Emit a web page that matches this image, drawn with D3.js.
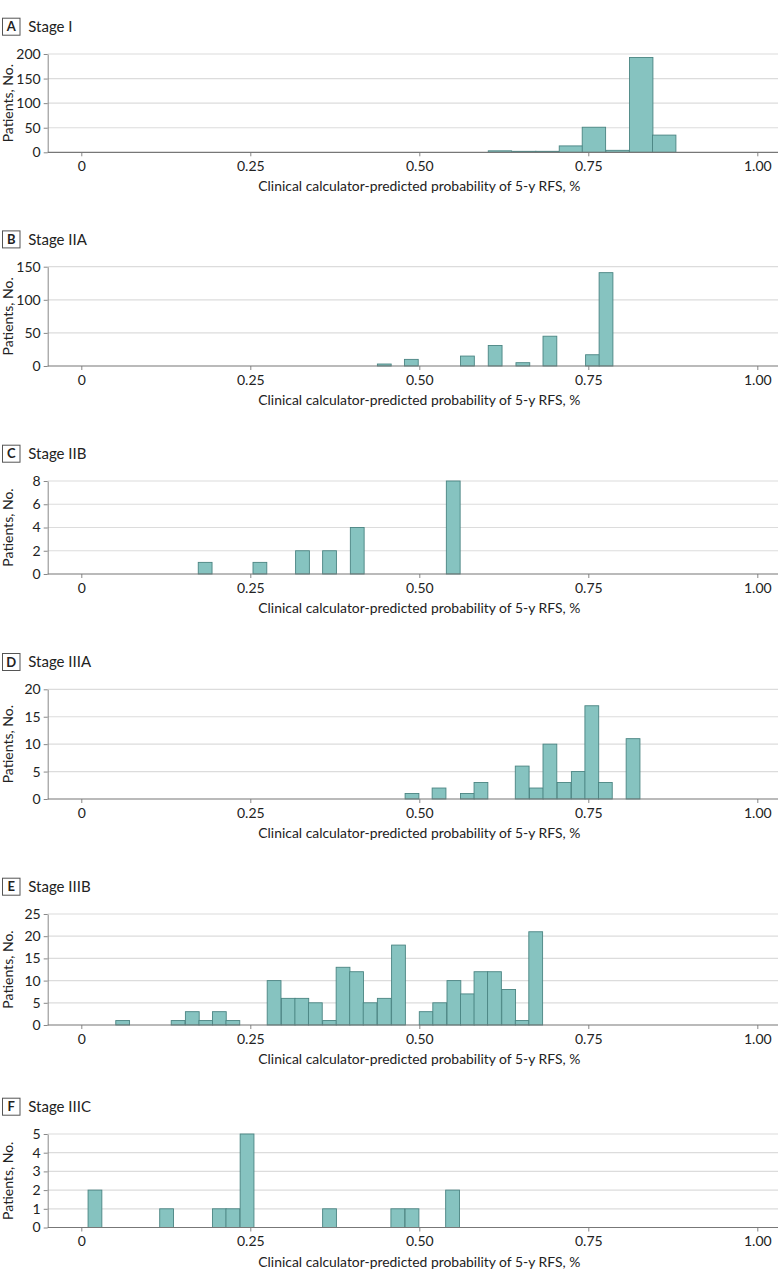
<!DOCTYPE html>
<html>
<head>
<meta charset="utf-8">
<script src="https://cdn.jsdelivr.net/npm/d3@7"></script>
<style>
    body { margin: 0; background: #fff; }
    svg { display: block; }
    text { font-family: Lato, "Open Sans", sans-serif; fill: #222; }
</style>
</head>
<body>
<div id="chart"></div>
<script>
// x axis ticks, shared by every panel
const xTicks = [0, 0.25, 0.5, 0.75, 1];
const xTickLabels = ['0', '0.25', '0.50', '0.75', '1.00'];

const panelLetters = ['A', 'B', 'C', 'D', 'E', 'F'];
const panelTitles = ['Stage I', 'Stage IIA', 'Stage IIB', 'Stage IIIA', 'Stage IIIB', 'Stage IIIC'];
const yMaxes = [200, 150, 8, 20, 25, 5];
const ySteps = [50, 50, 2, 5, 5, 1];
const binWidths = [0.0346, 0.0204, 0.0204, 0.0204, 0.0204, 0.0204];

// left edge of each bin (predicted probability) and patient counts
const stageIBins = [0.602, 0.638, 0.672, 0.707, 0.741, 0.776, 0.811, 0.845];
const stageICounts = [3, 2, 2, 13, 51, 4, 193, 35];

const stageIIABins = [0.438, 0.478, 0.561, 0.602, 0.643, 0.683, 0.746, 0.766];
const stageIIACounts = [3, 10, 15, 31, 5, 45, 17, 141];

const stageIIBBins = [0.173, 0.254, 0.317, 0.357, 0.398, 0.540];
const stageIIBCounts = [1, 1, 2, 2, 4, 8];

const stageIIIABins = [0.479, 0.519, 0.561, 0.581, 0.642, 0.663, 0.683, 0.704, 0.725, 0.745, 0.765, 0.806];
const stageIIIACounts = [1, 2, 1, 3, 6, 2, 10, 3, 5, 17, 3, 11];

const stageIIIBBins = [0.051, 0.133, 0.154, 0.174, 0.194, 0.214, 0.275, 0.296, 0.316, 0.336, 0.357, 0.377,
    0.397, 0.417, 0.438, 0.459, 0.500, 0.520, 0.541, 0.561, 0.581, 0.601, 0.622, 0.642, 0.662];
const stageIIIBCounts = [1, 1, 3, 1, 3, 1, 10, 6, 6, 5, 1, 13, 12, 5, 6, 18, 3, 5, 10, 7, 12, 12, 8, 1, 21];

const stageIIICBins = [0.010, 0.116, 0.194, 0.214, 0.235, 0.357, 0.458, 0.479, 0.539];
const stageIIICCounts = [2, 1, 1, 1, 5, 1, 1, 1, 2];

const allBins = [stageIBins, stageIIABins, stageIIBBins, stageIIIABins, stageIIIBBins, stageIIICBins];
const allCounts = [stageICounts, stageIIACounts, stageIIBCounts, stageIIIACounts, stageIIIBCounts, stageIIICCounts];

// layout: top gridline and baseline of each panel
const panelTops = [54, 266.7, 481, 689.3, 914, 1134];
const panelBottoms = [152.3, 366, 574, 799, 1025, 1227.5];

const width = 783, height = 1285;
const plotLeft = 47.7, plotRight = 778;
const fillColor = '#86c3c0', strokeColor = '#4a8482';

const svg = d3.select('#chart').append('svg')
    .attr('width', width)
    .attr('height', height);

const x = d3.scaleLinear().domain([0, 1]).range([81.3, 757.3]);

panelTitles.forEach((title, i) => {
    const top = panelTops[i];
    const bottom = panelBottoms[i];
    const y = d3.scaleLinear().domain([0, yMaxes[i]]).range([bottom, top]);
    const yTicks = d3.range(0, yMaxes[i] + ySteps[i] / 2, ySteps[i]);
    const g = svg.append('g');

    // panel letter box + title
    const ty = top - 27.3;
    g.append('rect')
        .attr('x', 2.5).attr('y', ty - 8.5)
        .attr('width', 17.5).attr('height', 17)
        .attr('fill', '#fff').attr('stroke', '#555').attr('stroke-width', 1);
    g.append('text')
        .attr('x', 11.25).attr('y', ty)
        .attr('dy', '0.36em')
        .attr('text-anchor', 'middle')
        .style('font-size', '13px')
        .style('font-weight', 'bold')
        .text(panelLetters[i]);
    g.append('text')
        .attr('x', 28.3).attr('y', ty)
        .attr('dy', '0.36em')
        .style('font-size', '15px')
        .text(title);

    // gridlines
    g.append('g')
        .selectAll('line')
        .data(yTicks.filter(d => d > 0))
        .join('line')
        .attr('x1', plotLeft).attr('x2', plotRight)
        .attr('y1', d => y(d)).attr('y2', d => y(d))
        .attr('stroke', '#dcdcdc')
        .attr('stroke-width', 1.2);

    // bars
    const bins = allBins[i].map((b, j) => ({ x0: b, x1: b + binWidths[i], n: allCounts[i][j] }));
    g.append('g')
        .selectAll('rect')
        .data(bins)
        .join('rect')
        .attr('x', d => x(d.x0))
        .attr('y', d => y(d.n))
        .attr('width', d => x(d.x1) - x(d.x0))
        .attr('height', d => y(0) - y(d.n))
        .attr('fill', fillColor)
        .attr('stroke', strokeColor)
        .attr('stroke-width', 0.9);

    // y axis
    const yAxis = g.append('g')
        .attr('transform', `translate(${plotLeft},0)`)
        .call(d3.axisLeft(y).tickValues(yTicks).tickFormat(d3.format('d'))
            .tickSize(4).tickPadding(3).tickSizeOuter(0));
    yAxis.select('.domain').attr('stroke', '#888');
    yAxis.selectAll('.tick line').attr('stroke', '#888');
    yAxis.selectAll('.tick text').style('font-size', '14px').attr('fill', '#222');

    // x axis
    const xAxis = g.append('g')
        .attr('transform', `translate(0,${bottom})`)
        .call(d3.axisBottom(x).tickValues(xTicks)
            .tickFormat((d, k) => xTickLabels[k])
            .tickSize(4).tickPadding(5));
    xAxis.select('.domain').remove();
    xAxis.selectAll('.tick line').attr('stroke', '#888');
    xAxis.selectAll('.tick text').style('font-size', '14px').attr('fill', '#222');
    g.append('line')
        .attr('x1', plotLeft).attr('x2', plotRight)
        .attr('y1', bottom).attr('y2', bottom)
        .attr('stroke', '#777')
        .attr('stroke-width', 1.2);

    // axis titles
    g.append('text')
        .attr('transform', `translate(8,${(top + bottom) / 2}) rotate(-90)`)
        .attr('dy', '0.36em')
        .attr('text-anchor', 'middle')
        .style('font-size', '14px')
        .text('Patients, No.');
    g.append('text')
        .attr('x', x(0.5)).attr('y', bottom + 34)
        .attr('dy', '0.36em')
        .attr('text-anchor', 'middle')
        .style('font-size', '13.9px')
        .text('Clinical calculator-predicted probability of 5-y RFS, %');
});
</script>
</body>
</html>
